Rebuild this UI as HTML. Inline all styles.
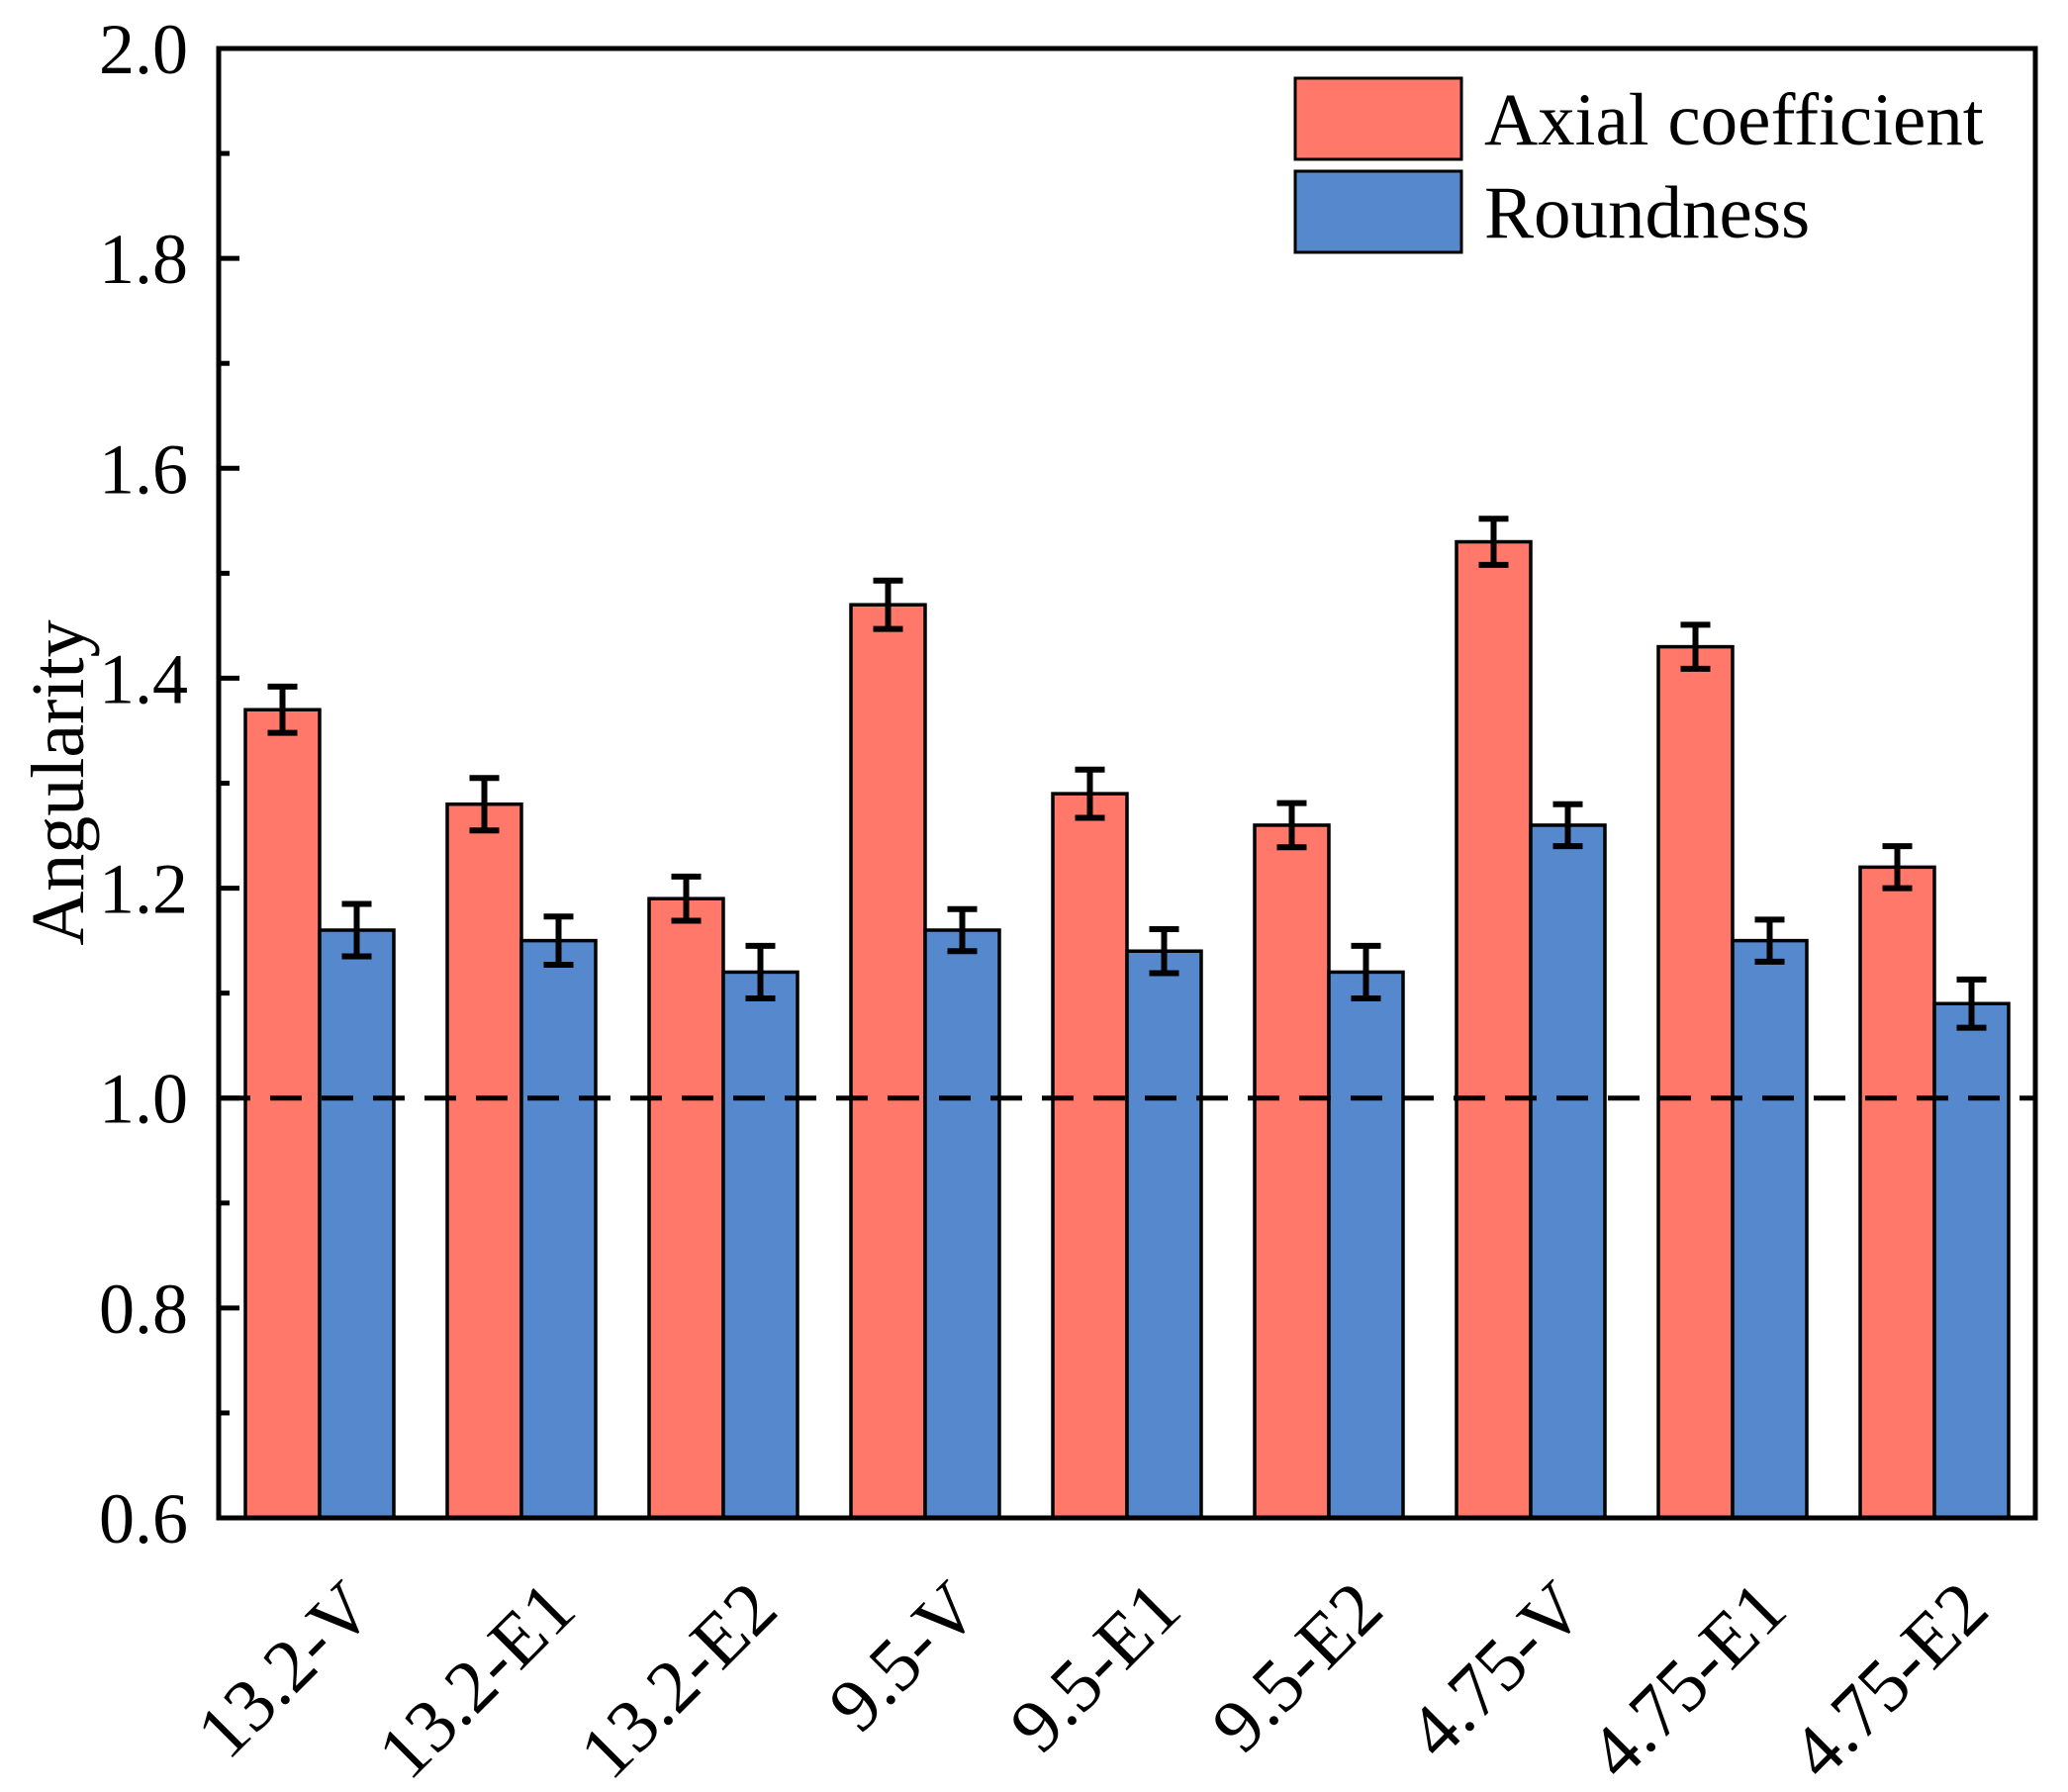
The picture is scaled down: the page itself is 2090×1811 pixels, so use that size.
<!DOCTYPE html>
<html><head><meta charset="utf-8"><style>
html,body{margin:0;padding:0;background:#fff;}
svg{display:block;font-family:"Liberation Serif",serif;}
</style></head><body>
<svg id="chart" width="2090" height="1811" viewBox="0 0 2090 1811">
<g id="bars"></g>
<g id="axes"></g>
<g id="legend">
  <rect x="1309" y="79" width="168" height="82" fill="#FF786A" stroke="#000" stroke-width="3"/>
  <text x="1500" y="146" font-size="75">Axial coefficient</text>
  <rect x="1309" y="173" width="168" height="82" fill="#5588CC" stroke="#000" stroke-width="3"/>
  <text x="1500" y="240" font-size="75">Roundness</text>
</g>
<text x="0" y="0" font-size="76" text-anchor="middle" transform="translate(84,791) rotate(-90)">Angularity</text>
</svg>
<script>
const categories = ["13.2-V","13.2-E1","13.2-E2","9.5-V","9.5-E1","9.5-E2","4.75-V","4.75-E1","4.75-E2"];
const axialValues = [1.37,1.28,1.19,1.47,1.29,1.26,1.53,1.43,1.22];
const axialErrors = [0.022,0.025,0.021,0.023,0.023,0.021,0.022,0.021,0.02];
const roundValues = [1.16,1.15,1.12,1.16,1.14,1.12,1.26,1.15,1.09];
const roundErrors = [0.025,0.023,0.025,0.02,0.021,0.025,0.02,0.02,0.023];
const yTicks = ["0.6","0.8","1.0","1.2","1.4","1.6","1.8","2.0"];
const refValue = 1.0;

const NS = "http://www.w3.org/2000/svg";
const L = 221, R = 2057, T = 49, B = 1534;
const yMin = 0.6, yMax = 2.0;
function y(v){ return B - (v - yMin) / (yMax - yMin) * (B - T); }
const groupW = (R - L) / categories.length;
function xCenter(i){ return L + groupW * (i + 0.5); }
const barW = 75;
function mk(tag, attrs, parent){ const e = document.createElementNS(NS, tag); for (const k in attrs) e.setAttribute(k, attrs[k]); parent.appendChild(e); return e; }

const bars = document.getElementById('bars');
const axes = document.getElementById('axes');

function drawBar(i, v, err, color, offset, name){
  const x = xCenter(i) + offset;
  const r = mk('rect', {x: x, y: y(v), width: barW, height: B - y(v), fill: color, stroke: '#000', 'stroke-width': 3.5}, bars);
  
  
  const cx = x + barW / 2;
  const g = mk('g', {stroke: '#000', 'stroke-width': 6}, bars);
  
  
  mk('line', {x1: cx, x2: cx, y1: y(v + err), y2: y(v - err)}, g);
  mk('line', {x1: cx - 15, x2: cx + 15, y1: y(v + err), y2: y(v + err)}, g);
  mk('line', {x1: cx - 15, x2: cx + 15, y1: y(v - err), y2: y(v - err)}, g);
}
categories.forEach((c, i) => {
  drawBar(i, axialValues[i], axialErrors[i], '#FF786A', -barW, 'axial');
  drawBar(i, roundValues[i], roundErrors[i], '#5588CC', 0, 'roundness');
});

const ref = mk('line', {x1: L, x2: R, y1: y(refValue), y2: y(refValue), stroke: '#000', 'stroke-width': 5, 'stroke-dasharray': '32 20'}, axes);



const frame = mk('rect', {x: L, y: T, width: R - L, height: B - T, fill: 'none', stroke: '#000', 'stroke-width': 5}, axes);



yTicks.forEach((t, k) => {
  const v = parseFloat(t);
  const yy = y(v);
  const tk = mk('line', {x1: L, x2: L + 21, y1: yy, y2: yy, stroke: '#000', 'stroke-width': 5}, axes);
  
  
  const lb = mk('text', {x: 190, y: yy + 25, 'font-size': 72, 'text-anchor': 'end'}, axes);
  lb.textContent = t;
  
  
  if (k < yTicks.length - 1) {
    const ym = y(v + 0.1);
    const mt = mk('line', {x1: L, x2: L + 11, y1: ym, y2: ym, stroke: '#000', 'stroke-width': 5}, axes);
    
    
  }
});

categories.forEach((c, i) => {
  const ax = xCenter(i) + 58, ay = 1630;
  const t = mk('text', {x: 0, y: 0, 'font-size': 76, 'text-anchor': 'end', transform: 'translate(' + ax + ',' + ay + ') rotate(-45)'}, axes);
  t.textContent = c;
  
  
});
</script>
</body></html>
